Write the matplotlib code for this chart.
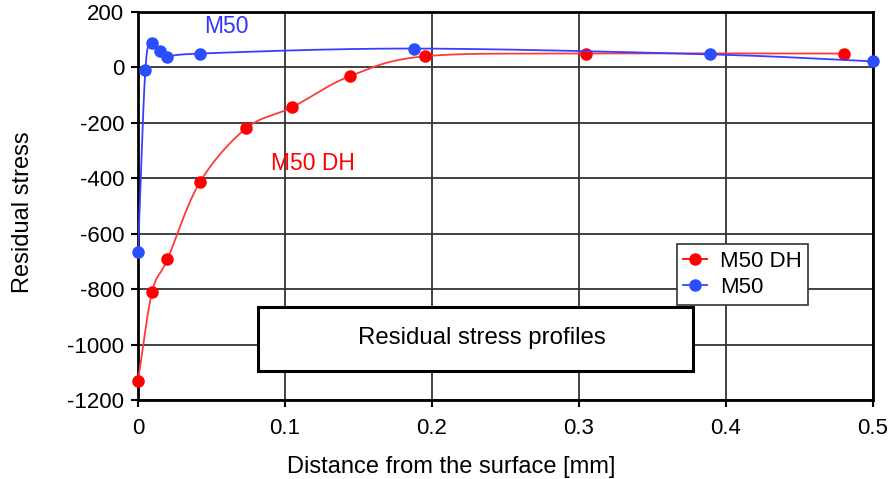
import numpy as np
import matplotlib
matplotlib.use("Agg")
import matplotlib.pyplot as plt
from matplotlib.lines import Line2D
from matplotlib.patches import Rectangle

plt.rcParams['font.family'] = ['Liberation Sans', 'DejaVu Sans']
plt.rcParams['axes.unicode_minus'] = False

# Data
m50_x = [0.0, 0.005, 0.0095, 0.015, 0.02, 0.042, 0.188, 0.389, 0.5]
m50_y = [-667, -10, 87, 58, 36, 50, 68, 47, 22]
dh_x = [0.0, 0.0095, 0.02, 0.042, 0.0735, 0.1048, 0.144, 0.195, 0.305, 0.48]
dh_y = [-1130, -812, -693, -415, -220, -144, -32, 40, 50, 50]

x_ticks = [0, 0.1, 0.2, 0.3, 0.4, 0.5]
x_ticklabels = ["0", "0.1", "0.2", "0.3", "0.4", "0.5"]
y_ticks = [200, 0, -200, -400, -600, -800, -1000, -1200]


def catmull_rom(xs, ys, n=30):
    xs = np.asarray(xs, float)
    ys = np.asarray(ys, float)
    P = np.column_stack([xs, ys])
    P = np.vstack([P[0] * 2 - P[1], P, P[-1] * 2 - P[-2]])
    out = []
    t = np.linspace(0, 1, n)[:, None]
    for i in range(1, len(P) - 2):
        p0, p1, p2, p3 = P[i - 1], P[i], P[i + 1], P[i + 2]
        seg = 0.5 * ((2 * p1) + (-p0 + p2) * t + (2 * p0 - 5 * p1 + 4 * p2 - p3) * t ** 2
                     + (-p0 + 3 * p1 - 3 * p2 + p3) * t ** 3)
        out.append(seg)
    out = np.vstack(out)
    return out[:, 0], out[:, 1]


fig = plt.figure(figsize=(8.88, 4.79), dpi=100)
ax = fig.add_axes([0.1554, 0.165, 0.8276, 0.81])

ax.set_xlim(0, 0.5)
ax.set_ylim(-1200, 200)
ax.set_xticks(x_ticks)
ax.set_xticklabels(x_ticklabels)
ax.set_yticks(y_ticks)
ax.grid(True, color='#333333', linewidth=1.3)
ax.set_axisbelow(True)
for s in ax.spines.values():
    s.set_linewidth(2)
    s.set_color('black')
ax.tick_params(axis='both', labelsize=16, length=5, width=1.5, color='black')
ax.tick_params(axis='x', pad=8)
ax.tick_params(axis='y', pad=5)

# red series
rx, ry = catmull_rom(dh_x, dh_y)
ax.plot(rx, ry, color='#ff3a3a', linewidth=1.3, zorder=3)
ax.plot(dh_x, dh_y, linestyle='none', marker='o', markersize=8,
        color='#ff0000', clip_on=False, zorder=4)
# blue series
bx, by = catmull_rom(m50_x, m50_y)
ax.plot(bx, by, color='#3d3dff', linewidth=1.3, zorder=5)
ax.plot(m50_x, m50_y, linestyle='none', marker='o', markersize=8,
        color='#2a4dff', clip_on=False, zorder=6)

# legend
h1 = Line2D([], [], color='#ff0000', marker='o', markersize=8, linewidth=1.3)
h2 = Line2D([], [], color='#2a4dff', marker='o', markersize=8, linewidth=1.3)
leg = ax.legend([h1, h2], ['M50 DH', 'M50'], loc='upper left',
                bbox_to_anchor=(0.733, 0.402), fontsize=16, frameon=True,
                fancybox=False, edgecolor='#333333', framealpha=1,
                handlelength=1.05, handletextpad=0.6, borderpad=0.3,
                labelspacing=0.25, borderaxespad=0)
leg.get_frame().set_linewidth(1.2)

# series labels
ax.text(0.060, 148, 'M50', color='#3333ff', fontsize=16.5, ha='center', va='center')
ax.text(0.119, -345, 'M50 DH', color='#ff0000', fontsize=16.5, ha='center', va='center')

# title box
ax.add_patch(Rectangle((0.0816, -1095), 0.3776 - 0.0816, 232, facecolor='white',
                       edgecolor='black', linewidth=2.2, zorder=7))
ax.text(0.234, -975, 'Residual stress profiles', fontsize=17.3, ha='center', va='center',
        zorder=8)

ax.set_xlabel('Distance from the surface [mm]', fontsize=17, labelpad=12, x=0.426)
ax.set_ylabel('Residual stress', fontsize=17, labelpad=24, y=0.485)

fig.savefig('out.png', dpi=100)
